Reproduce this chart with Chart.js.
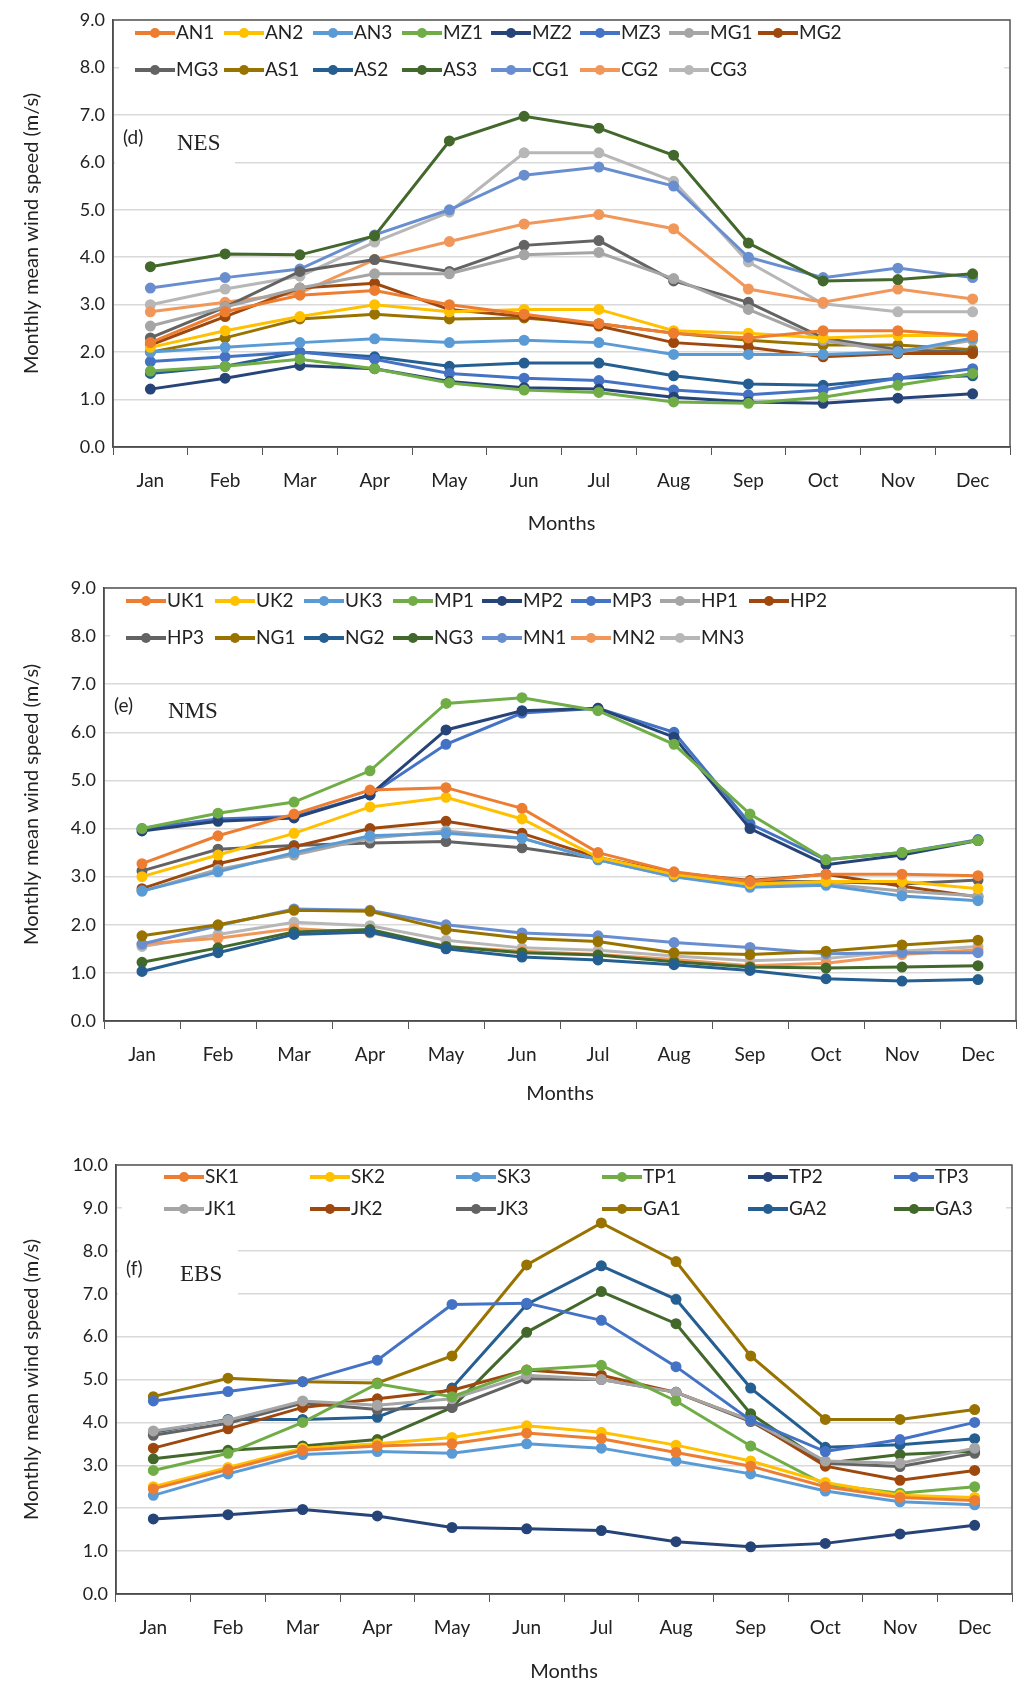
<!DOCTYPE html>
<html>
<head>
<meta charset="utf-8">
<script src="https://cdn.jsdelivr.net/npm/chart.js@4.4.0/dist/chart.umd.min.js"></script>
<style>
  body { margin: 0; background: #fff; width: 1033px; height: 1688px; position: relative; overflow: hidden; }
  .panel { position: absolute; left: 0; width: 1033px; }
</style>
</head>
<body>
<div class="panel" style="top:0;height:540px"><canvas id="chartD"></canvas></div>
<div class="panel" style="top:560px;height:550px"><canvas id="chartE"></canvas></div>
<div class="panel" style="top:1130px;height:558px"><canvas id="chartF"></canvas></div>
<script>
// Shared categories
const months = ["Jan", "Feb", "Mar", "Apr", "May", "Jun", "Jul", "Aug", "Sep", "Oct", "Nov", "Dec"];

// Panel (d) NES
const nesNames = ["AN1", "AN2", "AN3", "MZ1", "MZ2", "MZ3", "MG1", "MG2", "MG3", "AS1", "AS2", "AS3", "CG1", "CG2", "CG3"];
const AN1 = [2.2, 2.85, 3.2, 3.3, 3.0, 2.8, 2.6, 2.4, 2.3, 2.45, 2.45, 2.35];
const AN2 = [2.1, 2.45, 2.75, 3.0, 2.85, 2.9, 2.9, 2.45, 2.4, 2.3, 2.35, 2.35];
const AN3 = [2.0, 2.1, 2.2, 2.28, 2.2, 2.25, 2.2, 1.95, 1.95, 1.95, 2.0, 2.3];
const MZ1 = [1.6, 1.7, 1.85, 1.65, 1.35, 1.2, 1.15, 0.95, 0.92, 1.05, 1.3, 1.55];
const MZ2 = [1.22, 1.45, 1.72, 1.65, 1.38, 1.25, 1.22, 1.05, 0.95, 0.92, 1.03, 1.12];
const MZ3 = [1.8, 1.9, 2.0, 1.85, 1.55, 1.45, 1.4, 1.2, 1.1, 1.2, 1.45, 1.65];
const MG1 = [2.55, 2.95, 3.35, 3.65, 3.65, 4.05, 4.1, 3.55, 2.9, 2.25, 2.0, 2.25];
const MG2 = [2.15, 2.75, 3.35, 3.45, 2.9, 2.75, 2.55, 2.2, 2.1, 1.9, 1.97, 1.97];
const MG3 = [2.3, 2.95, 3.7, 3.95, 3.7, 4.25, 4.35, 3.5, 3.05, 2.3, 2.05, 2.0];
const AS1 = [2.0, 2.3, 2.7, 2.8, 2.7, 2.72, 2.6, 2.4, 2.25, 2.15, 2.15, 2.05];
const AS2 = [1.55, 1.7, 2.0, 1.9, 1.7, 1.77, 1.77, 1.5, 1.33, 1.3, 1.45, 1.5];
const AS3 = [3.8, 4.07, 4.05, 4.45, 6.45, 6.97, 6.72, 6.15, 4.3, 3.5, 3.53, 3.65];
const CG1 = [3.35, 3.57, 3.75, 4.47, 5.0, 5.73, 5.9, 5.5, 4.0, 3.57, 3.77, 3.57];
const CG2 = [2.85, 3.05, 3.25, 3.95, 4.33, 4.7, 4.9, 4.6, 3.33, 3.05, 3.33, 3.12];
const CG3 = [3.0, 3.33, 3.6, 4.32, 4.95, 6.2, 6.2, 5.6, 3.9, 3.02, 2.85, 2.85];

// Panel (e) NMS
const nmsNames = ["UK1", "UK2", "UK3", "MP1", "MP2", "MP3", "HP1", "HP2", "HP3", "NG1", "NG2", "NG3", "MN1", "MN2", "MN3"];
const UK1 = [3.27, 3.85, 4.3, 4.8, 4.85, 4.42, 3.5, 3.1, 2.9, 3.05, 3.05, 3.02];
const UK2 = [3.0, 3.45, 3.9, 4.45, 4.65, 4.2, 3.4, 3.05, 2.85, 2.9, 2.9, 2.75];
const UK3 = [2.7, 3.1, 3.5, 3.85, 3.9, 3.8, 3.35, 3.0, 2.78, 2.82, 2.6, 2.5];
const MP1 = [4.0, 4.32, 4.55, 5.2, 6.6, 6.72, 6.45, 5.75, 4.3, 3.35, 3.5, 3.75];
const MP2 = [3.95, 4.15, 4.22, 4.7, 6.05, 6.45, 6.5, 5.9, 4.0, 3.25, 3.45, 3.75];
const MP3 = [4.0, 4.2, 4.25, 4.7, 5.75, 6.4, 6.5, 6.0, 4.1, 3.35, 3.5, 3.77];
const HP1 = [2.7, 3.15, 3.45, 3.8, 3.95, 3.8, 3.35, 3.0, 2.85, 2.85, 2.7, 2.6];
const HP2 = [2.75, 3.27, 3.62, 4.0, 4.15, 3.9, 3.4, 3.08, 2.92, 3.05, 2.8, 2.58];
const HP3 = [3.12, 3.57, 3.65, 3.7, 3.73, 3.6, 3.37, 3.08, 2.9, 2.9, 2.85, 2.93];
const NG1 = [1.77, 2.0, 2.3, 2.28, 1.9, 1.72, 1.65, 1.42, 1.38, 1.45, 1.58, 1.68];
const NG2 = [1.03, 1.42, 1.8, 1.85, 1.5, 1.33, 1.27, 1.17, 1.05, 0.88, 0.83, 0.86];
const NG3 = [1.22, 1.52, 1.85, 1.9, 1.55, 1.42, 1.37, 1.23, 1.12, 1.1, 1.12, 1.15];
const MN1 = [1.6, 1.98, 2.33, 2.3, 2.0, 1.83, 1.77, 1.63, 1.53, 1.4, 1.42, 1.42];
const MN2 = [1.6, 1.72, 1.92, 1.83, 1.55, 1.45, 1.38, 1.28, 1.15, 1.2, 1.38, 1.48];
const MN3 = [1.55, 1.8, 2.05, 1.98, 1.68, 1.52, 1.47, 1.35, 1.25, 1.3, 1.45, 1.55];

// Panel (f) EBS
const ebsNames = ["SK1", "SK2", "SK3", "TP1", "TP2", "TP3", "JK1", "JK2", "JK3", "GA1", "GA2", "GA3"];
const SK1 = [2.45, 2.9, 3.35, 3.45, 3.5, 3.75, 3.62, 3.3, 2.98, 2.5, 2.25, 2.18];
const SK2 = [2.5, 2.95, 3.4, 3.5, 3.65, 3.92, 3.77, 3.47, 3.1, 2.6, 2.3, 2.25];
const SK3 = [2.3, 2.8, 3.25, 3.32, 3.28, 3.5, 3.4, 3.1, 2.8, 2.4, 2.15, 2.08];
const TP1 = [2.88, 3.28, 4.0, 4.9, 4.6, 5.22, 5.33, 4.5, 3.45, 2.55, 2.35, 2.5];
const TP2 = [1.75, 1.85, 1.97, 1.82, 1.55, 1.52, 1.48, 1.22, 1.1, 1.18, 1.4, 1.6];
const TP3 = [4.5, 4.72, 4.95, 5.45, 6.75, 6.78, 6.38, 5.3, 4.05, 3.32, 3.6, 4.0];
const JK1 = [3.8, 4.05, 4.5, 4.4, 4.55, 5.1, 5.0, 4.7, 4.05, 3.1, 3.05, 3.4];
const JK2 = [3.4, 3.85, 4.35, 4.55, 4.75, 5.22, 5.1, 4.7, 4.05, 2.98, 2.65, 2.88];
const JK3 = [3.7, 3.98, 4.45, 4.3, 4.35, 5.02, 5.0, 4.7, 4.02, 3.05, 2.97, 3.28];
const GA1 = [4.6, 5.03, 4.95, 4.92, 5.55, 7.67, 8.65, 7.75, 5.55, 4.07, 4.07, 4.3];
const GA2 = [3.77, 4.07, 4.07, 4.12, 4.8, 6.75, 7.65, 6.87, 4.8, 3.42, 3.48, 3.62];
const GA3 = [3.15, 3.35, 3.45, 3.6, 4.35, 6.1, 7.05, 6.3, 4.2, 3.05, 3.25, 3.33];

// Excel-like series colours
const palette = ["#ED7D31", "#FFC000", "#5B9BD5", "#70AD47", "#264478", "#4472C4", "#A5A5A5", "#9E480E",
                 "#636363", "#997300", "#255E91", "#43682B", "#698ED0", "#F1975A", "#B7B7B7"];

const FONT = "Lato, 'Open Sans', sans-serif";

function makeSets(names, arrays) {
    return names.map((n, i) => ({
        label: n,
        data: arrays[i],
        borderColor: palette[i],
        backgroundColor: palette[i],
        borderWidth: 3,
        pointRadius: 4,
        pointHoverRadius: 4,
        tension: 0
    }));
}

// White boxes behind legend and tag (under the lines), then legend, tag and border on top
const panelDecor = {
    id: 'panelDecor',
    beforeDatasetsDraw(chart, args, opts) {
        const ctx = chart.ctx;
        const a = chart.chartArea;
        ctx.save();
        ctx.fillStyle = '#fff';
        ctx.fillRect(a.left + 2, a.top + opts.tagY - 24, 120, 46);
        ctx.fillRect(a.left + 6, a.top + 2, a.right - a.left - 12, opts.boxH);
        ctx.restore();
    },
    afterDatasetsDraw(chart, args, opts) {
        const ctx = chart.ctx;
        const a = chart.chartArea;
        ctx.save();
        ctx.fillStyle = '#222';
        ctx.textBaseline = 'middle';
        ctx.font = '19px ' + FONT;
        ctx.fillText(opts.tag, a.left + 10, a.top + opts.tagY - 4);
        ctx.font = '23px "Liberation Serif", "Times New Roman", serif';
        ctx.fillText(opts.region, a.left + opts.regionX, a.top + opts.tagY + 2);
        ctx.font = '19px ' + FONT;
        chart.data.datasets.forEach((ds, i) => {
            const row = Math.floor(i / opts.perRow), col = i % opts.perRow;
            const x = a.left + opts.legX + col * opts.colGap;
            const y = a.top + opts.legY + row * opts.rowGap;
            ctx.strokeStyle = ds.borderColor;
            ctx.lineWidth = 4;
            ctx.beginPath(); ctx.moveTo(x, y); ctx.lineTo(x + 40, y); ctx.stroke();
            ctx.fillStyle = ds.borderColor;
            ctx.beginPath(); ctx.arc(x + 20, y, 5, 0, Math.PI * 2); ctx.fill();
            ctx.fillStyle = '#222';
            ctx.fillText(ds.label, x + 41, y);
        });
        ctx.strokeStyle = '#555';
        ctx.lineWidth = 1.5;
        ctx.strokeRect(a.left, a.top, a.right - a.left, a.bottom - a.top);
        ctx.restore();
    }
};

function buildChart(id, sets, cfg) {
    new Chart(document.getElementById(id), {
        type: 'line',
        data: { labels: months, datasets: sets },
        plugins: [panelDecor],
        options: {
            responsive: true,
            maintainAspectRatio: false,
            animation: false,
            layout: { padding: { top: cfg.top, right: cfg.right, left: 16, bottom: 0 } },
            plugins: {
                legend: { display: false },
                tooltip: { enabled: false },
                panelDecor: cfg.decor
            },
            scales: {
                x: {
                    offset: true,
                    afterFit: s => { s.height = cfg.bottom; },
                    grid: { offset: true, drawOnChartArea: false, drawTicks: true, tickLength: 8, color: '#555' },
                    border: { color: '#333', width: 1.5 },
                    ticks: { color: '#222', font: { size: 19, family: FONT }, padding: 14 },
                    title: { display: true, text: 'Months', color: '#222', font: { size: 20, family: FONT }, padding: { top: 10 } }
                },
                y: {
                    min: 0, max: cfg.max,
                    afterFit: s => { s.width = cfg.left - 16; },
                    grid: { color: '#d9d9d9', lineWidth: 1.5, drawTicks: false },
                    border: { color: '#333', width: 1.5 },
                    ticks: { stepSize: 1, color: '#222', font: { size: 18, family: FONT }, padding: 8,
                             callback: v => v.toFixed(1) },
                    title: { display: true, text: 'Monthly mean wind speed (m/s)', color: '#222',
                             font: { size: 20, family: FONT }, padding: { bottom: 4 } }
                }
            }
        }
    });
}

buildChart('chartD', makeSets(nesNames, [AN1, AN2, AN3, MZ1, MZ2, MZ3, MG1, MG2, MG3, AS1, AS2, AS3, CG1, CG2, CG3]),
    { top: 20, bottom: 93, left: 113, right: 23, max: 9,
      decor: { tag: '(d)', region: 'NES', regionX: 64, tagY: 122, perRow: 8, colGap: 89, rowGap: 37, legX: 22, legY: 13, boxH: 80 } });

buildChart('chartE', makeSets(nmsNames, [UK1, UK2, UK3, MP1, MP2, MP3, HP1, HP2, HP3, NG1, NG2, NG3, MN1, MN2, MN3]),
    { top: 28, bottom: 89, left: 104, right: 17, max: 9,
      decor: { tag: '(e)', region: 'NMS', regionX: 64, tagY: 122, perRow: 8, colGap: 89, rowGap: 37, legX: 22, legY: 13, boxH: 80 } });

buildChart('chartF', makeSets(ebsNames, [SK1, SK2, SK3, TP1, TP2, TP3, JK1, JK2, JK3, GA1, GA2, GA3]),
    { top: 35, bottom: 94, left: 116, right: 21, max: 10,
      decor: { tag: '(f)', region: 'EBS', regionX: 64, tagY: 108, perRow: 6, colGap: 146, rowGap: 32, legX: 48, legY: 12, boxH: 56 } });
</script>
</body>
</html>
